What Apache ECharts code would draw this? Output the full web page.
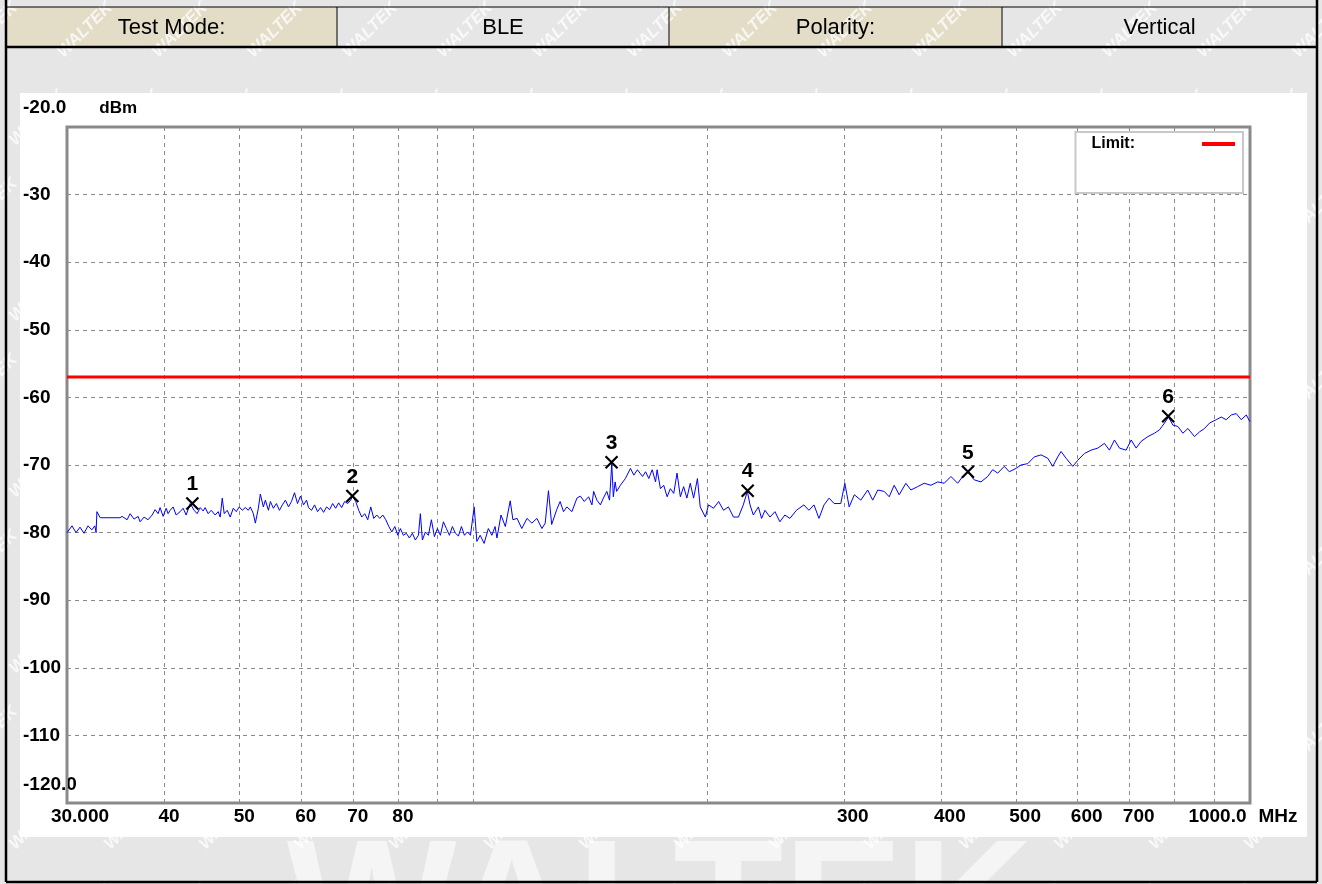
<!DOCTYPE html>
<html><head><meta charset="utf-8">
<script src="https://cdn.jsdelivr.net/npm/echarts/dist/echarts.min.js"></script>
<style>html,body{margin:0;padding:0;background:#e6e6e6}#c{width:1322px;height:884px}</style>
</head><body><div id="c"></div><script>
// ---------------- data ----------------
const headerCells = ['Test Mode:', 'BLE', 'Polarity:', 'Vertical'];
const yUnit = 'dBm';
const xUnit = 'MHz';
const xTickValues = [30, 40, 50, 60, 70, 80, 300, 400, 500, 600, 700, 1000];
const xTickText = ['30.000', '40', '50', '60', '70', '80', '300', '400', '500', '600', '700', '1000.0'];
const xGridValues = [40, 50, 60, 70, 80, 90, 100, 200, 300, 400, 500, 600, 700, 800, 900];
const limitName = 'Limit';
const limitDbm = -57.0;
const markerNames = ['1', '2', '3', '4', '5', '6'];
const markerFreq = [43.5, 69.9, 150.7, 225.6, 433.4, 784.7];
const markerLevel = [-75.7, -74.6, -69.6, -73.8, -71.0, -62.8];
const freqMHz = [
 30.00,30.45,30.81,31.18,31.55,31.93,32.29,32.58,32.70,32.78,33.10,35.11,35.32,35.85,36.17,36.60,37.04,37.26,37.70,38.15,
 38.61,38.95,39.30,39.53,39.89,40.25,40.48,40.73,41.09,41.46,41.95,42.33,42.71,43.22,43.73,44.12,44.52,44.92,45.18,45.59,
 46.00,46.55,46.96,47.24,47.53,47.81,48.24,48.67,49.11,49.55,49.99,50.44,50.89,51.35,51.65,52.12,52.43,52.90,53.21,53.69,
 54.01,54.50,54.82,55.31,55.81,56.31,56.81,57.32,57.84,58.36,58.88,59.41,59.94,60.48,61.02,61.38,61.93,62.49,63.05,63.61,
 64.18,64.76,65.34,65.93,66.52,67.11,67.71,68.32,68.93,69.55,69.97,70.59,71.23,71.87,72.51,73.16,73.82,74.48,75.14,75.82,
 76.50,77.18,77.88,78.57,79.28,79.99,80.59,81.31,82.03,82.77,83.51,84.25,85.01,85.51,86.02,86.79,87.57,88.35,89.14,89.94,
 90.74,91.55,92.37,93.20,94.03,94.87,95.72,96.58,97.44,98.31,99.19,100.3,101.1,102.1,103.3,104.6,105.7,106.7,107.3,108.6,
 110.0,111.6,112.5,113.9,115.5,117.3,119.0,120.8,122.6,123.8,125.0,126.2,128.1,129.4,130.7,132.0,134.0,136.0,137.4,139.0,
 140.8,142.2,142.9,144.3,145.8,147.1,148.6,149.8,150.8,151.5,152.3,153.0,154.7,157.0,159.4,161.0,162.7,165.2,166.7,168.3,
 170.0,171.7,172.5,174.2,175.9,177.7,179.4,181.2,183.0,184.8,186.6,188.4,190.3,192.2,194.4,196.0,199.0,200.9,203.9,207.0,
 210.0,213.1,216.3,219.5,222.7,225.4,227.2,229.4,232.9,235.1,237.5,241.0,244.6,248.2,251.9,255.7,260.7,266.5,270.5,274.6,
 278.7,282.9,287.2,291.5,297.3,300.9,304.8,309.5,315.5,322.0,326.8,331.8,338.1,343.2,348.3,353.5,360.6,366.0,373.4,380.7,
 388.4,396.2,404.0,412.1,420.4,426.7,433.0,441.6,450.5,459.5,466.4,473.4,482.7,489.9,499.8,507.2,517.4,527.7,538.3,549.1,
 557.3,565.6,571.2,579.7,591.4,600.2,612.1,624.4,636.9,649.5,659.2,669.1,679.1,692.7,703.1,713.6,724.2,738.8,753.4,764.6,
 776.1,785.3,795.7,807.5,819.6,831.9,848.3,861.0,873.9,886.9,904.7,918.3,932.0,945.9,960.1,974.4,989.0,1000.0
];
const levelDbm = [
 -80.0,-79.0,-80.0,-79.2,-80.1,-79.0,-79.6,-79.0,-80.0,-76.9,-77.8,-77.8,-77.6,-78.1,-77.2,-78.0,-77.6,-78.4,-77.7,-78.1,
 -77.4,-76.6,-77.2,-76.3,-77.6,-76.4,-77.2,-76.7,-76.2,-77.4,-76.9,-76.4,-77.4,-75.7,-76.7,-77.2,-76.3,-76.8,-76.3,-77.2,
 -76.7,-77.4,-76.9,-77.7,-74.9,-77.2,-76.7,-77.7,-76.4,-76.9,-76.2,-76.7,-76.3,-76.7,-76.2,-77.2,-78.6,-76.4,-74.3,-76.2,
 -75.2,-76.7,-75.4,-76.4,-75.7,-76.7,-75.9,-75.2,-76.2,-75.4,-74.1,-75.7,-74.6,-75.9,-75.2,-76.3,-76.7,-75.9,-76.9,-76.3,
 -77.0,-76.2,-76.6,-75.7,-76.4,-75.6,-76.3,-75.4,-75.7,-75.2,-74.6,-75.4,-76.7,-77.7,-77.2,-78.1,-76.2,-77.9,-77.4,-77.9,
 -77.4,-78.1,-79.1,-79.9,-79.1,-80.4,-79.4,-80.4,-80.1,-80.8,-80.1,-81.1,-80.4,-77.2,-81.1,-79.9,-80.4,-78.1,-80.6,-79.4,
 -80.4,-78.4,-79.4,-80.4,-79.1,-80.1,-80.5,-79.1,-80.4,-79.9,-80.4,-76.2,-81.3,-80.4,-81.6,-79.4,-80.4,-79.1,-80.8,-77.4,
 -79.1,-75.3,-78.1,-77.9,-79.4,-77.9,-78.6,-77.9,-79.4,-78.6,-73.8,-78.8,-76.6,-75.4,-76.9,-76.2,-76.9,-74.9,-74.6,-75.4,
 -74.7,-75.9,-73.9,-75.2,-75.9,-74.9,-73.9,-75.2,-69.8,-74.7,-72.5,-73.9,-73.0,-72.0,-70.5,-71.5,-70.7,-71.7,-71.0,-72.0,
 -70.7,-72.5,-70.7,-73.5,-73.0,-74.7,-73.5,-74.2,-71.2,-74.7,-73.2,-74.9,-72.7,-74.9,-72.0,-76.2,-77.7,-75.9,-76.4,-75.4,
 -76.7,-76.2,-77.7,-77.7,-75.9,-73.9,-75.9,-77.4,-76.2,-77.9,-76.7,-77.7,-76.9,-78.4,-77.4,-77.9,-76.7,-75.9,-76.7,-75.9,
 -77.9,-75.9,-74.9,-75.7,-75.7,-72.7,-76.2,-74.4,-75.2,-73.7,-75.2,-73.7,-73.9,-74.7,-73.0,-74.4,-72.7,-73.7,-73.2,-72.7,
 -73.0,-72.5,-72.7,-71.7,-72.7,-71.7,-71.0,-72.2,-72.5,-71.7,-70.7,-71.2,-70.2,-71.0,-70.5,-70.0,-69.8,-68.8,-68.5,-69.0,
 -70.2,-68.8,-68.0,-69.0,-70.2,-69.3,-68.3,-67.8,-67.5,-66.8,-67.8,-66.3,-67.5,-67.8,-66.3,-67.5,-66.5,-65.8,-65.3,-64.8,
 -63.8,-62.9,-64.1,-64.3,-65.3,-64.6,-65.8,-65.1,-64.6,-63.8,-63.3,-62.9,-63.3,-62.6,-62.4,-63.3,-62.6,-63.6
];

// ---------------- chart ----------------
const FONT = "'Liberation Sans', Arial, sans-serif";
const W = 1322, H = 884;
const chart = echarts.init(document.getElementById('c'), null, {renderer: 'canvas', width: W, height: H});

const trace = freqMHz.map((f, i) => [f, levelDbm[i]]);
const markers = markerFreq.map((f, i) => ({name: markerNames[i], value: [f, markerLevel[i]]}));

function tickShift(t) {
  if (t === '30.000') return 13;
  if (t === '1000.0') return -7;
  return t.length === 2 ? 5 : 9;
}
const labelStyle = {fontFamily: FONT, fontWeight: 'bold', fontSize: 19, color: '#000'};
const markData = [];
const labelled = {};
xTickValues.forEach((v, i) => { labelled[v] = i; });
const allLines = [30].concat(xGridValues, [1000]);
allLines.forEach(v => {
  const item = {xAxis: v};
  if (v === 30 || v === 1000) item.lineStyle = {color: '#8a8a8a', type: 'solid', width: 1};
  if (labelled[v] !== undefined) {
    const i = labelled[v];
    const t = xTickText[i];
    const s = tickShift(t);
    const pad = s >= 0 ? [0, 0, 0, 2 * s] : [0, -2 * s, 0, 0];
    const txt = (i === xTickValues.length - 1) ? '{t|' + t + '}{u|' + xUnit + '}' : '{t|' + t + '}';
    item.label = {
      show: true, position: 'start', distance: 4, formatter: txt,
      rich: {
        t: Object.assign({}, labelStyle, {padding: [0, 0, 0, pad[3]]}),
        u: Object.assign({}, labelStyle, {padding: [0, pad[1], 0, 12]})
      }
    };
  }
  markData.push(item);
});

// background graphics
const gfx = [];
gfx.push({type: 'rect', shape: {x: 0, y: 0, width: W, height: H}, style: {fill: '#e6e6e6'}, z: -20, silent: true});
const cellX = [6, 337, 669, 1002, 1317];
for (let i = 0; i < 4; i++) {
  if (i % 2 === 0) gfx.push({type: 'rect', shape: {x: cellX[i], y: 7, width: cellX[i + 1] - cellX[i], height: 40}, style: {fill: '#e3dcc7'}, z: -19, silent: true});
}
for (let r = 0; r < 11; r++) {
  for (let c = 0; c < 15; c++) {
    gfx.push({type: 'text', x: c * 95 + (r % 2) * 47 - 10, y: r * 88 + 30, rotation: Math.PI / 4,
      style: {text: 'WALTEK', fill: 'rgba(255,255,255,0.75)', font: 'italic bold 17px ' + FONT, textAlign: 'center', textVerticalAlign: 'middle'},
      z: -18, silent: true});
  }
}
gfx.push({type: 'text', x: 660, y: 915, style: {text: 'WALTEK', fill: 'rgba(255,255,255,0.6)', font: 'bold 180px ' + FONT, textAlign: 'center', textVerticalAlign: 'middle'}, z: -17, silent: true});
gfx.push({type: 'rect', shape: {x: 20, y: 93, width: 1287, height: 744}, style: {fill: '#ffffff'}, z: -16, silent: true});
for (let i = 0; i < 4; i++) {
  gfx.push({type: 'text', x: (cellX[i] + cellX[i + 1]) / 2, y: 28,
    style: {text: headerCells[i], fill: '#000', font: '22px ' + FONT, textAlign: 'center', textVerticalAlign: 'middle'}, z: -15, silent: true});
}
const lines = [
  [6, 7, 1317, 7, 1], [6, 47, 1317, 47, 2.5], [6, 0, 6, 882, 2.5], [1317, 0, 1317, 882, 2.5], [6, 882, 1317, 882, 2.5],
  [337, 7, 337, 47, 1], [669, 7, 669, 47, 1], [1002, 7, 1002, 47, 1]
];
lines.forEach(l => gfx.push({type: 'line', shape: {x1: l[0], y1: l[1], x2: l[2], y2: l[3]}, style: {stroke: '#000', lineWidth: l[4]}, z: -14, silent: true}));

const option = {
  animation: false,
  graphic: {elements: gfx},
  grid: {left: 67, top: 127, right: 72, bottom: 81, show: true, borderColor: '#8a8a8a', borderWidth: 3, backgroundColor: 'transparent'},
  legend: {
    right: 79, top: 132, orient: 'vertical', align: 'right',
    data: [{name: limitName, icon: 'rect', itemStyle: {color: '#ff0000'}}],
    itemWidth: 33, itemHeight: 4,
    backgroundColor: '#ffffff', borderColor: '#c8c8c8', borderWidth: 2, borderRadius: 0,
    padding: [4, 8, 41, 16],
    formatter: n => '{t|' + n + ':}',
    textStyle: {rich: {t: {fontFamily: FONT, fontWeight: 'bold', fontSize: 16, color: '#000', padding: [0, 62, 0, 0]}}},
    selectedMode: false
  },
  xAxis: {
    type: 'log', logBase: 10, min: 30, max: 1000,
    axisLine: {show: false}, axisTick: {show: false}, axisLabel: {show: false}, splitLine: {show: false}
  },
  yAxis: {
    type: 'value', min: -120, max: -20, interval: 10,
    axisLine: {show: false}, axisTick: {show: false},
    splitLine: {show: true, lineStyle: {color: '#8a8a8a', type: [4, 4], width: 1}},
    axisLabel: {
      align: 'left', margin: 44, color: '#000', fontFamily: FONT, fontWeight: 'bold', fontSize: 19,
      formatter: v => {
        if (v === -20) return '{a|-20.0}{u|' + yUnit + '}';
        if (v === -120) return '{b|-120.0}';
        return String(v);
      },
      rich: {
        a: {fontFamily: FONT, fontWeight: 'bold', fontSize: 19, color: '#000', padding: [0, 0, 38, 0]},
        u: {fontFamily: FONT, fontWeight: 'bold', fontSize: 17, color: '#000', padding: [0, 0, 38, 33]},
        b: {fontFamily: FONT, fontWeight: 'bold', fontSize: 19, color: '#000', padding: [0, 0, 36, 0]}
      }
    }
  },
  series: [
    {
      name: 'grid', type: 'line', data: [[30, -120]], symbol: 'none', lineStyle: {opacity: 0}, silent: true, clip: false,
      markLine: {z: 1, silent: true, symbol: 'none', animation: false,
        lineStyle: {color: '#8a8a8a', type: [4, 4], width: 1},
        label: {show: false}, data: markData}
    },
    {
      name: limitName, type: 'line', data: [[30, limitDbm], [1000, limitDbm]], symbol: 'none', silent: true,
      lineStyle: {color: '#ff0000', width: 3}, itemStyle: {color: '#ff0000'}
    },
    {
      name: 'trace', type: 'line', data: trace, symbol: 'none', silent: true,
      lineStyle: {color: '#0000ff', width: 1}
    },
    {
      name: 'markers', type: 'scatter', data: markers, silent: true,
      symbol: 'path://M0,0L10,10M10,0L0,10', symbolSize: 12,
      itemStyle: {color: 'none', borderColor: '#000', borderWidth: 2.2, opacity: 1},
      label: {show: true, position: 'top', distance: 0, formatter: '{b}', color: '#000', fontFamily: FONT, fontWeight: 'bold', fontSize: 21},
      z: 4
    }
  ]
};
chart.setOption(option);
</script></body></html>
